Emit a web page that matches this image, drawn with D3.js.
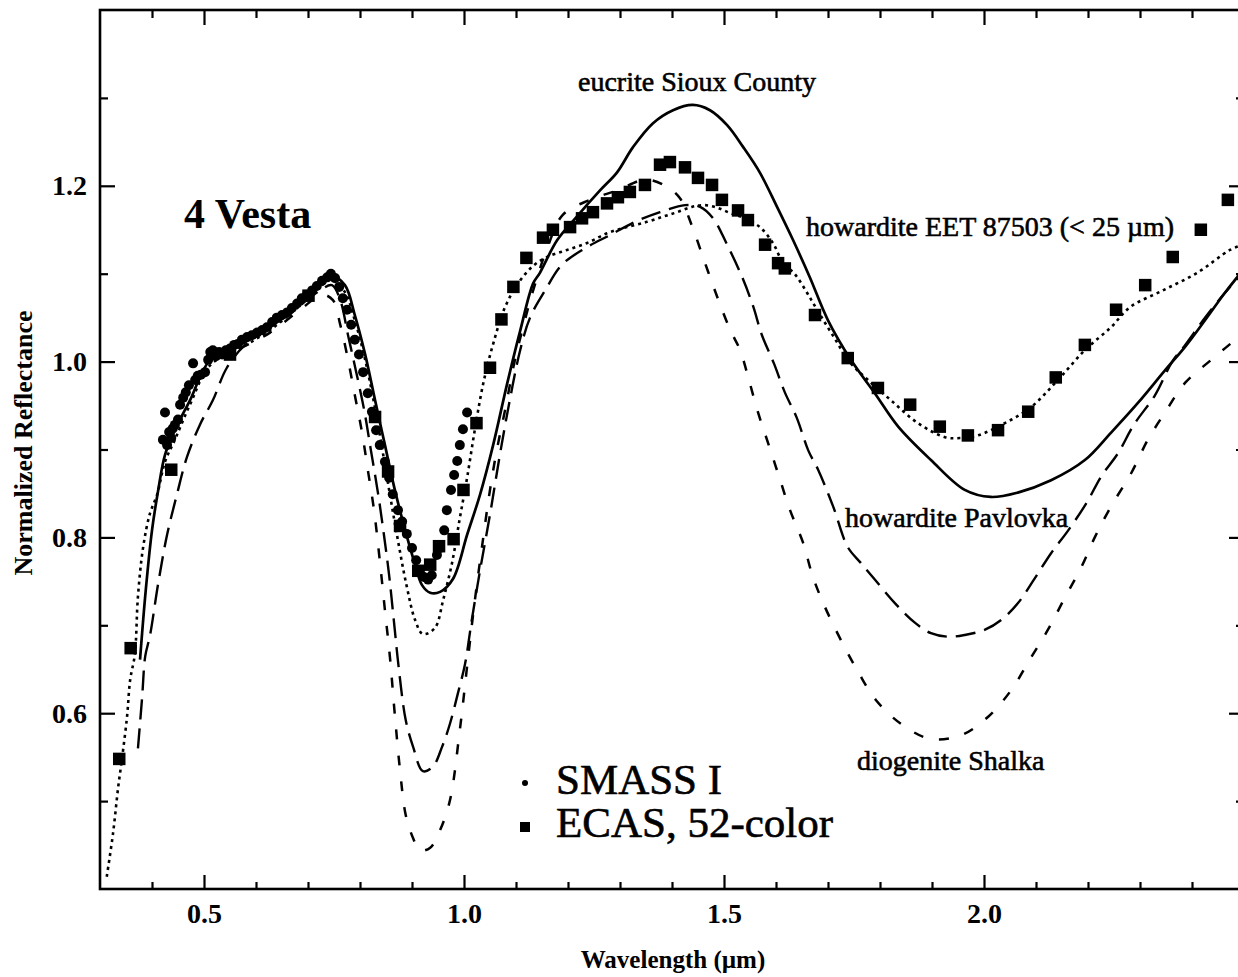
<!DOCTYPE html>
<html>
<head>
<meta charset="utf-8">
<script src="https://cdn.jsdelivr.net/npm/d3@7"></script>
<style>
  body { margin: 0; background: #fff; }
  svg { display: block; }
  text { font-family: "Liberation Serif", "Times New Roman", serif; fill: #000; }
</style>
</head>
<body>
<svg id="chart" width="1238" height="977"></svg>
<script>
// ---- Data: wavelength (µm), normalized reflectance ----

// SMASS I spectrum of 4 Vesta
const smassI = [
  [0.421,0.911],[0.425,0.942],[0.429,0.905],[0.433,0.920],[0.437,0.913],[0.440,0.924],
  [0.444,0.928],[0.450,0.934],[0.454,0.951],[0.460,0.959],[0.465,0.965],[0.471,0.973],
  [0.479,0.998],[0.483,0.979],[0.488,0.984],[0.494,0.985],[0.502,0.988],[0.508,1.002],
  [0.512,1.011],[0.517,1.013],[0.523,1.006],[0.529,1.011],[0.535,1.008],[0.542,1.013],
  [0.550,1.015],[0.558,1.019],[0.565,1.020],[0.573,1.025],[0.583,1.028],[0.592,1.030],
  [0.602,1.033],[0.612,1.036],[0.621,1.039],[0.631,1.045],[0.640,1.050],[0.650,1.053],
  [0.660,1.056],[0.669,1.061],[0.679,1.066],[0.688,1.072],[0.698,1.076],[0.708,1.081],
  [0.717,1.086],[0.727,1.092],[0.737,1.096],[0.744,1.100],[0.752,1.095],[0.760,1.085],
  [0.767,1.072],[0.775,1.059],[0.783,1.042],[0.790,1.025],[0.798,1.008],[0.806,0.988],
  [0.815,0.964],[0.823,0.943],[0.831,0.922],[0.838,0.905],[0.848,0.886],[0.856,0.868],
  [0.863,0.849],[0.873,0.831],[0.881,0.818],[0.890,0.804],[0.900,0.788],[0.908,0.774],
  [0.915,0.762],[0.923,0.755],[0.931,0.752],[0.938,0.757],[0.948,0.780],[0.954,0.788],
  [0.962,0.808],[0.967,0.831],[0.975,0.854],[0.981,0.871],[0.987,0.887],[0.992,0.905],
  [0.998,0.923],[1.006,0.942]
];

// ECAS and 52-color survey photometry of 4 Vesta
const ecas52 = [
  [0.337,0.548],[0.359,0.674],[0.437,0.877],[0.550,1.008],[0.701,1.075],
  [0.829,0.937],[0.854,0.875],[0.877,0.813],[0.912,0.762],[0.935,0.769],[0.952,0.790],
  [0.980,0.798],[0.999,0.854],[1.024,0.930],[1.050,0.993],[1.072,1.048],[1.095,1.085],
  [1.120,1.118],[1.152,1.141],[1.171,1.150],[1.204,1.153],[1.227,1.163],[1.248,1.170],
  [1.275,1.180],[1.296,1.187],[1.319,1.193],[1.348,1.201],[1.377,1.224],[1.396,1.227],
  [1.425,1.221],[1.450,1.209],[1.477,1.201],[1.496,1.184],[1.527,1.172],[1.546,1.161],
  [1.579,1.133],[1.604,1.112],[1.617,1.106],[1.675,1.053],[1.738,1.004],[1.796,0.970],
  [1.858,0.951],[1.915,0.926],[1.969,0.916],[2.027,0.922],[2.085,0.943],[2.138,0.982],
  [2.194,1.019],[2.254,1.059],[2.310,1.087],[2.363,1.119],[2.417,1.150],[2.469,1.184]
];

// eucrite Sioux County (laboratory spectrum)
const eucriteSiouxCounty = [
  [0.377,0.661],[0.388,0.740],[0.400,0.808],[0.412,0.854],[0.425,0.894],[0.444,0.922],
  [0.473,0.956],[0.512,1.002],[0.569,1.019],[0.627,1.039],[0.685,1.067],[0.723,1.087],
  [0.746,1.097],[0.771,1.087],[0.790,1.053],[0.810,1.008],[0.829,0.956],[0.848,0.905],
  [0.867,0.854],[0.887,0.808],[0.906,0.769],[0.919,0.746],[0.935,0.737],[0.954,0.738],
  [0.979,0.753],[1.006,0.803],[1.031,0.849],[1.056,0.905],[1.083,0.975],[1.108,1.035],
  [1.133,1.089],[1.146,1.101],[1.179,1.138],[1.217,1.165],[1.262,1.195],[1.294,1.215],
  [1.325,1.244],[1.363,1.271],[1.402,1.286],[1.440,1.292],[1.473,1.286],[1.506,1.269],
  [1.537,1.244],[1.569,1.215],[1.602,1.176],[1.633,1.138],[1.665,1.096],[1.700,1.047],
  [1.744,1.002],[1.790,0.964],[1.835,0.926],[1.898,0.888],[1.963,0.854],[2.013,0.846],
  [2.065,0.851],[2.129,0.865],[2.194,0.888],[2.244,0.919],[2.296,0.953],[2.348,0.990],
  [2.387,1.017],[2.425,1.047],[2.463,1.078],[2.502,1.107]
];

// howardite EET 87503 (< 25 µm)
const howarditeEET87503 = [
  [0.313,0.414],[0.325,0.463],[0.335,0.516],[0.342,0.547],[0.352,0.596],[0.358,0.638],
  [0.367,0.667],[0.373,0.733],[0.383,0.789],[0.396,0.827],[0.410,0.849],[0.425,0.886],
  [0.444,0.911],[0.473,0.951],[0.512,0.996],[0.569,1.015],[0.627,1.036],[0.685,1.064],
  [0.723,1.085],[0.746,1.093],[0.771,1.079],[0.790,1.047],[0.810,1.002],[0.833,0.934],
  [0.852,0.868],[0.871,0.803],[0.890,0.744],[0.906,0.706],[0.921,0.690],[0.944,0.697],
  [0.960,0.729],[0.977,0.771],[0.992,0.822],[1.006,0.868],[1.021,0.923],[1.037,0.975],
  [1.056,1.020],[1.079,1.062],[1.104,1.089],[1.133,1.109],[1.160,1.119],[1.198,1.127],
  [1.237,1.135],[1.275,1.146],[1.313,1.153],[1.352,1.159],[1.383,1.165],[1.410,1.170],
  [1.438,1.176],[1.463,1.178],[1.487,1.175],[1.512,1.169],[1.540,1.163],[1.569,1.153],
  [1.594,1.135],[1.613,1.113],[1.637,1.099],[1.660,1.078],[1.679,1.059],[1.706,1.033],
  [1.744,0.998],[1.777,0.979],[1.821,0.956],[1.873,0.930],[1.925,0.914],[1.954,0.913],
  [1.988,0.916],[2.040,0.930],[2.090,0.948],[2.142,0.979],[2.194,1.013],[2.244,1.039],
  [2.281,1.062],[2.344,1.081],[2.410,1.101],[2.473,1.127],[2.502,1.134]
];

// howardite Pavlovka
const howarditePavlovka = [
  [0.373,0.560],[0.381,0.618],[0.387,0.665],[0.396,0.688],[0.412,0.748],[0.429,0.803],
  [0.448,0.849],[0.467,0.891],[0.492,0.928],[0.517,0.956],[0.544,0.993],[0.579,1.019],
  [0.627,1.038],[0.685,1.064],[0.723,1.081],[0.746,1.087],[0.762,1.070],[0.777,1.030],
  [0.792,0.990],[0.808,0.945],[0.821,0.899],[0.835,0.849],[0.846,0.803],[0.856,0.757],
  [0.865,0.706],[0.875,0.649],[0.888,0.592],[0.902,0.562],[0.921,0.534],[0.940,0.539],
  [0.958,0.562],[0.973,0.588],[0.988,0.622],[1.002,0.656],[1.015,0.706],[1.031,0.763],
  [1.050,0.826],[1.069,0.894],[1.088,0.956],[1.108,1.013],[1.127,1.050],[1.156,1.081],
  [1.188,1.110],[1.233,1.129],[1.281,1.144],[1.329,1.159],[1.377,1.170],[1.425,1.178],
  [1.454,1.176],[1.479,1.163],[1.506,1.133],[1.535,1.096],[1.556,1.063],[1.573,1.030],
  [1.596,0.998],[1.617,0.965],[1.640,0.936],[1.662,0.899],[1.681,0.877],[1.710,0.835],
  [1.738,0.789],[1.763,0.771],[1.790,0.752],[1.829,0.725],[1.867,0.703],[1.898,0.691],
  [1.931,0.687],[1.963,0.689],[2.002,0.695],[2.033,0.706],[2.065,0.725],[2.096,0.752],
  [2.129,0.782],[2.162,0.808],[2.198,0.840],[2.225,0.869],[2.258,0.896],[2.288,0.928],
  [2.329,0.962],[2.362,1.000],[2.387,1.019],[2.425,1.050],[2.463,1.078],[2.502,1.104]
];

// diogenite Shalka
const diogeniteShalka = [
  [0.569,1.015],[0.627,1.033],[0.685,1.059],[0.727,1.076],[0.748,1.070],[0.762,1.042],
  [0.775,1.008],[0.790,0.962],[0.804,0.919],[0.815,0.877],[0.827,0.831],[0.838,0.774],
  [0.848,0.717],[0.858,0.661],[0.867,0.598],[0.877,0.535],[0.888,0.484],[0.902,0.458],
  [0.915,0.444],[0.935,0.447],[0.954,0.467],[0.973,0.501],[0.992,0.581],[1.008,0.664],
  [1.021,0.729],[1.035,0.791],[1.050,0.854],[1.063,0.899],[1.079,0.945],[1.098,1.002],
  [1.117,1.047],[1.133,1.081],[1.160,1.129],[1.190,1.167],[1.242,1.184],[1.296,1.195],
  [1.348,1.207],[1.387,1.200],[1.415,1.186],[1.438,1.155],[1.463,1.113],[1.488,1.072],
  [1.512,1.036],[1.531,1.013],[1.548,0.979],[1.565,0.943],[1.585,0.907],[1.606,0.869],
  [1.627,0.831],[1.652,0.794],[1.671,0.755],[1.694,0.721],[1.725,0.683],[1.758,0.647],
  [1.792,0.615],[1.840,0.588],[1.896,0.571],[1.956,0.575],[2.008,0.596],[2.052,0.626],
  [2.088,0.661],[2.123,0.695],[2.156,0.732],[2.187,0.766],[2.213,0.800],[2.244,0.835],
  [2.283,0.873],[2.315,0.911],[2.348,0.942],[2.387,0.976],[2.437,1.002],[2.502,1.034]
];

// Axis ticks
const xMajorTicks = [0.5, 1.0, 1.5, 2.0];
const xMinorTicks = [0.4, 0.6, 0.7, 0.8, 0.9, 1.1, 1.2, 1.3, 1.4, 1.6, 1.7, 1.8, 1.9, 2.1, 2.2, 2.3, 2.4];
const yMajorTicks = [0.6, 0.8, 1.0, 1.2];
const yMinorTicks = [0.5, 0.7, 0.9, 1.1, 1.3];

// ---- Layout ----
const plot = { left: 100, right: 1244, top: 10, bottom: 889 };
const svg = d3.select("#chart");

const x = d3.scaleLinear().domain([0.3, 2.5]).range([plot.left, plot.right]);
const y = d3.scaleLinear().domain([0.4, 1.4]).range([plot.bottom, plot.top]);

svg.append("rect").attr("width", 1238).attr("height", 977).attr("fill", "#fff");

svg.append("defs").append("clipPath").attr("id", "plotClip")
  .append("rect")
  .attr("x", plot.left).attr("y", plot.top)
  .attr("width", plot.right - plot.left).attr("height", plot.bottom - plot.top);

// ---- Axes (inward ticks on all four sides) ----
const fmt = d3.format(".1f");
function styleAxis(g) {
  g.select(".domain").remove();
  g.selectAll(".tick line").attr("stroke", "#000").attr("stroke-width", 2.2);
  g.selectAll(".tick text")
    .style("font-family", '"Liberation Serif", "Times New Roman", serif')
    .style("font-size", "28px").style("font-weight", "bold").attr("fill", "#000");
}

svg.append("g").attr("transform", `translate(0,${plot.bottom})`)
  .call(d3.axisBottom(x).tickValues(xMajorTicks).tickSize(-14).tickSizeOuter(0)
    .tickPadding(14).tickFormat(fmt)).call(styleAxis);
svg.append("g").attr("transform", `translate(0,${plot.bottom})`)
  .call(d3.axisBottom(x).tickValues(xMinorTicks).tickSize(-7).tickSizeOuter(0)
    .tickFormat("")).call(styleAxis);
svg.append("g").attr("transform", `translate(0,${plot.top})`)
  .call(d3.axisTop(x).tickValues(xMajorTicks).tickSize(-15).tickSizeOuter(0)
    .tickFormat("")).call(styleAxis);
svg.append("g").attr("transform", `translate(0,${plot.top})`)
  .call(d3.axisTop(x).tickValues(xMinorTicks).tickSize(-8).tickSizeOuter(0)
    .tickFormat("")).call(styleAxis);

svg.append("g").attr("transform", `translate(${plot.left},0)`)
  .call(d3.axisLeft(y).tickValues(yMajorTicks).tickSize(-15).tickSizeOuter(0)
    .tickPadding(13).tickFormat(fmt)).call(styleAxis);
svg.append("g").attr("transform", `translate(${plot.left},0)`)
  .call(d3.axisLeft(y).tickValues(yMinorTicks).tickSize(-8).tickSizeOuter(0)
    .tickFormat("")).call(styleAxis);
svg.append("g").attr("transform", `translate(${plot.right},0)`)
  .call(d3.axisRight(y).tickValues(yMajorTicks).tickSize(-15).tickSizeOuter(0)
    .tickFormat("")).call(styleAxis);
svg.append("g").attr("transform", `translate(${plot.right},0)`)
  .call(d3.axisRight(y).tickValues(yMinorTicks).tickSize(-8).tickSizeOuter(0)
    .tickFormat("")).call(styleAxis);

// frame
svg.append("rect")
  .attr("x", plot.left).attr("y", plot.top)
  .attr("width", plot.right - plot.left).attr("height", plot.bottom - plot.top)
  .attr("fill", "none").attr("stroke", "#000").attr("stroke-width", 2.6);

// ---- Spectra ----
const line = d3.line()
  .x(d => x(d[0])).y(d => y(d[1]))
  .curve(d3.curveCatmullRom.alpha(0.5));

const curves = svg.append("g").attr("clip-path", "url(#plotClip)");
const lineStyles = [
  { data: diogeniteShalka,    dash: "10,16", width: 2.5 },
  { data: howarditePavlovka,  dash: "20,9",  width: 2.4 },
  { data: howarditeEET87503,  dash: "3,4",   width: 2.6 },
  { data: eucriteSiouxCounty, dash: null,    width: 2.7 }
];
lineStyles.forEach(s => {
  curves.append("path")
    .datum(s.data)
    .attr("d", line)
    .attr("fill", "none")
    .attr("stroke", "#000")
    .attr("stroke-width", s.width)
    .attr("stroke-dasharray", s.dash);
});

// SMASS I points
curves.append("g").selectAll("circle")
  .data(smassI).join("circle")
  .attr("cx", d => x(d[0])).attr("cy", d => y(d[1]))
  .attr("r", 5).attr("fill", "#000");

// ECAS / 52-color squares
const sq = 12.5;
curves.append("g").selectAll("rect")
  .data(ecas52).join("rect")
  .attr("x", d => x(d[0]) - sq / 2).attr("y", d => y(d[1]) - sq / 2)
  .attr("width", sq).attr("height", sq).attr("fill", "#000");

// ---- Annotations ----
function label(txt, px, py, size, weight, anchor) {
  return svg.append("text")
    .attr("x", px).attr("y", py)
    .attr("text-anchor", anchor || "start")
    .style("font-size", size + "px")
    .style("font-weight", weight || "normal")
    .attr("stroke", "#000").attr("stroke-width", weight === "bold" ? 0 : 0.6)
    .text(txt);
}

label("4 Vesta", 184, 228, 42, "bold");
label("eucrite Sioux County", 578, 91, 28);
label("howardite EET 87503 (< 25 \u00B5m)", 806, 236, 28);
label("howardite Pavlovka", 845, 527, 28);
label("diogenite Shalka", 857, 770, 28);

// legend
svg.append("circle").attr("cx", 525).attr("cy", 783).attr("r", 3).attr("fill", "#000");
svg.append("rect").attr("x", 520).attr("y", 822).attr("width", 10).attr("height", 10).attr("fill", "#000");
label("SMASS I", 556, 794, 43);
label("ECAS, 52-color", 556, 837, 43);

// axis titles
svg.append("text")
  .attr("x", 673).attr("y", 968).attr("text-anchor", "middle")
  .style("font-size", "25px").style("font-weight", "bold")
  .text("Wavelength (\u00B5m)");
svg.append("text")
  .attr("transform", "translate(32,443) rotate(-90)")
  .attr("text-anchor", "middle")
  .style("font-size", "26px").style("font-weight", "bold")
  .text("Normalized Reflectance");
</script>
</body>
</html>
